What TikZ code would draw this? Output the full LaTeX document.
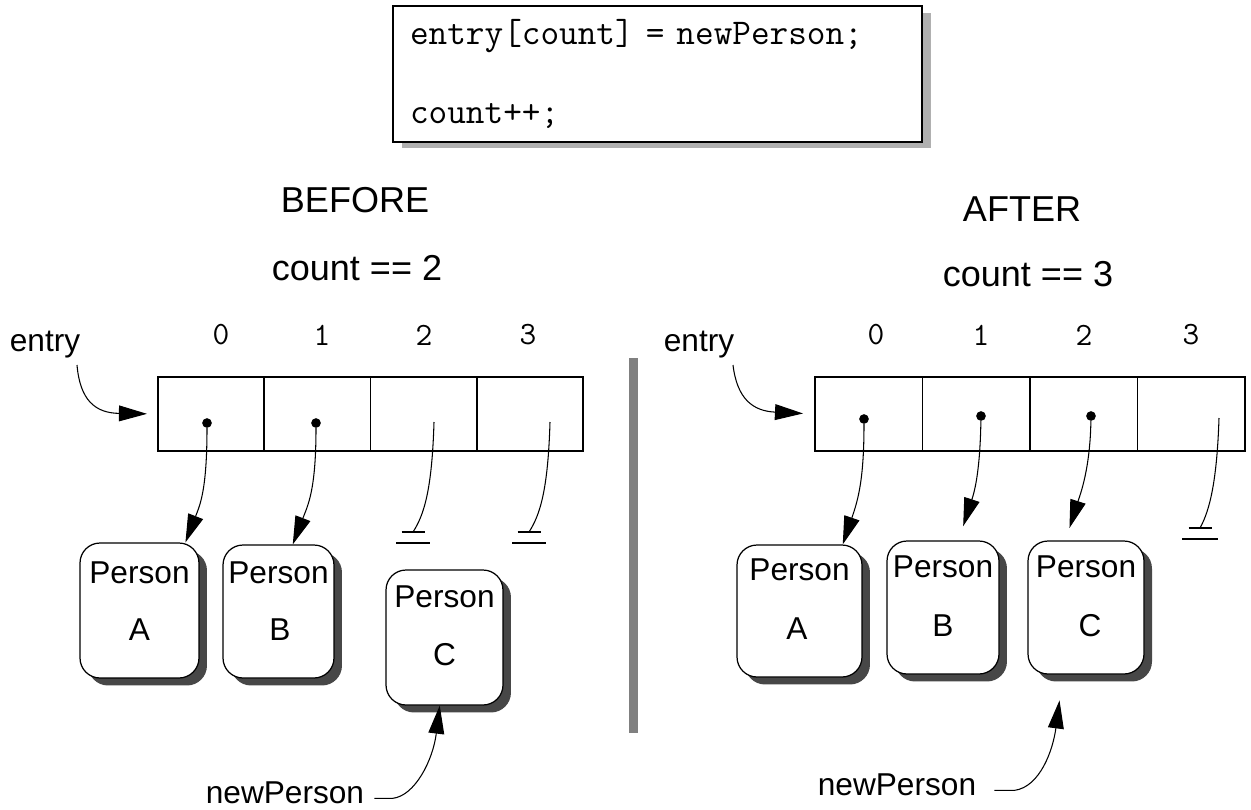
\documentclass[tikz,border=0pt]{standalone}
\usepackage{fontspec}
\setmainfont{Liberation Sans}
\usetikzlibrary{positioning,arrows.meta,shadows}

\begin{document}
\begin{tikzpicture}[
	x=0.02cm, y=-0.02cm,
	codebox/.style={draw, line width=1.2pt, fill=white, font=\ttfamily\fontsize{20.6}{24}\selectfont, align=left, text width=9.9cm, inner xsep=0.34cm, minimum height=2.72cm, drop shadow={shadow xshift=0.18cm, shadow yshift=-0.13cm, fill=black!31, opacity=1}},
	cell/.style={draw, line width=1.1pt, minimum width=2.125cm, minimum height=1.48cm, inner sep=0},
	cellR/.style={cell, minimum width=2.15cm},
	person/.style={draw, line width=0.7pt, fill=white, rounded corners=0.4cm, inner sep=0, drop shadow={shadow xshift=0.16cm, shadow yshift=-0.15cm, fill=black!72, opacity=1}},
	txt/.style={font=\fontsize{18}{22}\selectfont, inner sep=0},
	headtxt/.style={font=\fontsize{20.5}{24}\selectfont},
	idx/.style={font=\ttfamily\fontsize{18.5}{22}\selectfont},
	refdot/.style={circle, fill, inner sep=0, minimum width=5.5pt, minimum height=4.5pt},
	ptr/.style={-{Triangle[length=16pt,width=9pt]}, line width=0.6pt},
	nullline/.style={line width=0.6pt},
	nullbar/.style={line width=1.2pt},
	]
	\useasboundingbox (0,0) rectangle (1251,809);
	%Code
	\node[codebox] (code) at (657.5,74) {entry[count] = newPerson;\\[21pt]count++;};
	
	%Headings
	\node[headtxt] (before) at (355,200) {BEFORE};
	\node[headtxt] (cnt2)   at (357,268) {count == 2};
	\node[headtxt] (after)  at (1022,209) {AFTER};
	\node[headtxt] (cnt3)   at (1028,274) {count == 3};
	
	%Divider
	\draw[line width=5.1pt, black!50] (633.5,358) -- (633.5,733);
	
	%Before: array
	\node[txt]  (entryL) at (45,345)  {entry};
	\node[idx]  (i0L)    at (221,335) {0};
	\node[idx]  (i1L)    at (322,335) {1};
	\node[idx]  (i2L)    at (424,335) {2};
	\node[idx]  (i3L)    at (528,335) {3};
	\node[cell] (L0)     at (211.1,414) {};
	\node[cell] (L1)     at (317.4,414) {};
	\node[cell] (L2)     at (423.6,414) {};
	\node[cell] (L3)     at (529.9,414) {};
	\node[refdot] (d0L)  at (207,423) {};
	\node[refdot] (d1L)  at (316,423) {};
	\coordinate (n2L) at (434,422);
	\coordinate (n3L) at (550,422);
	\coordinate (g2L) at (413,532);
	\coordinate (g3L) at (529,532);
	\coordinate (eLs) at (77,365);
	
	%Before: persons
	\node[person, minimum width=2.38cm, minimum height=2.7cm]  (pAL) at (139.5,610.5) {};
	\node[txt] (pAL1) at (139.5,573) {Person};
	\node[txt] (pAL2) at (139.5,630) {A};
	\node[person, minimum width=2.22cm, minimum height=2.66cm] (pBL) at (278.5,611.5) {};
	\node[txt] (pBL1) at (278.5,573) {Person};
	\node[txt] (pBL2) at (280,630) {B};
	\node[person, minimum width=2.34cm, minimum height=2.7cm]  (pCL) at (444.5,637.5) {};
	\node[txt] (pCL1) at (444.5,597) {Person};
	\node[txt] (pCL2) at (444.5,655) {C};
	\node[txt, anchor=base] (npL) at (285,803) {newPerson};
	
	%Before: lines
	\draw[ptr, shorten >=0.2cm] (eLs) .. controls (80,400) and (95,413) .. (L0.west);
	\draw[ptr] (d0L) .. controls (207,490) and (200,505) .. (pAL.56);
	\draw[ptr] (d1L) .. controls (316,490) and (308,505) .. (pBL.78);
	\draw[nullline] (n2L) .. controls (432,490) and (424,515) .. (g2L);
	\draw[nullline] (n3L) .. controls (548,490) and (540,515) .. (g3L);
	\draw[nullbar] ([xshift=-0.23cm]g2L) -- ([xshift=0.23cm]g2L);
	\draw[nullbar] ([xshift=-0.34cm,yshift=-0.22cm]g2L) -- ([xshift=0.34cm,yshift=-0.22cm]g2L);
	\draw[nullbar] ([xshift=-0.23cm]g3L) -- ([xshift=0.23cm]g3L);
	\draw[nullbar] ([xshift=-0.34cm,yshift=-0.22cm]g3L) -- ([xshift=0.34cm,yshift=-0.22cm]g3L);
	\draw[ptr] ([xshift=0.2cm]npL.mid east) -- ++(18,0) .. controls (415,796) and (433,760) .. (pCL.-94);
	
	%After: array
	\node[txt]  (entryR) at (699,345)  {entry};
	\node[idx]  (i0R)    at (876,335)  {0};
	\node[idx]  (i1R)    at (981,335)  {1};
	\node[idx]  (i2R)    at (1084,335) {2};
	\node[idx]  (i3R)    at (1191,335) {3};
	\node[cellR] (R0)    at (868.75,414)  {};
	\node[cellR] (R1)    at (976.25,414)  {};
	\node[cellR] (R2)    at (1083.75,414) {};
	\node[cellR] (R3)    at (1191.25,414) {};
	\node[refdot] (d0R)  at (864,419)  {};
	\node[refdot] (d1R)  at (981,416)  {};
	\node[refdot] (d2R)  at (1091,416) {};
	\coordinate (n3R) at (1219,418);
	\coordinate (g3R) at (1200,528);
	\coordinate (eRs) at (733,365);
	
	%After: persons
	\node[person, minimum width=2.5cm, minimum height=2.64cm]  (pAR) at (799.5,611) {};
	\node[txt] (pAR1) at (799.5,570) {Person};
	\node[txt] (pAR2) at (797,629) {A};
	\node[person, minimum width=2.24cm, minimum height=2.66cm] (pBR) at (943,607.5) {};
	\node[txt] (pBR1) at (943,567) {Person};
	\node[txt] (pBR2) at (943,626) {B};
	\node[person, minimum width=2.32cm, minimum height=2.66cm] (pCR) at (1086,607.5) {};
	\node[txt] (pCR1) at (1086,567) {Person};
	\node[txt] (pCR2) at (1090,626) {C};
	\node[txt, anchor=base] (npR) at (897,795) {newPerson};
	
	%After: lines
	\draw[ptr, shorten >=0.22cm] (eRs) .. controls (737,398) and (752,411) .. (R0.west);
	\draw[ptr] (d0R) .. controls (864,480) and (858,500) .. (pAR.57);
	\draw[ptr, shorten >=0.3cm] (d1R) .. controls (980,470) and (975,490) .. (pBR.77);
	\draw[ptr, shorten >=0.26cm] (d2R) .. controls (1090,470) and (1080,495) .. (pCR.107);
	\draw[nullline] (n3R) .. controls (1217,480) and (1210,510) .. (g3R);
	\draw[nullbar] ([xshift=-0.23cm]g3R) -- ([xshift=0.23cm]g3R);
	\draw[nullbar] ([xshift=-0.36cm,yshift=-0.22cm]g3R) -- ([xshift=0.36cm,yshift=-0.22cm]g3R);
	\draw[ptr, shorten >=0.52cm] ([xshift=0.36cm]npR.mid east) -- ++(20,0) .. controls (1040,787) and (1053,750) .. (pCR.-109);
\end{tikzpicture}
\end{document}
